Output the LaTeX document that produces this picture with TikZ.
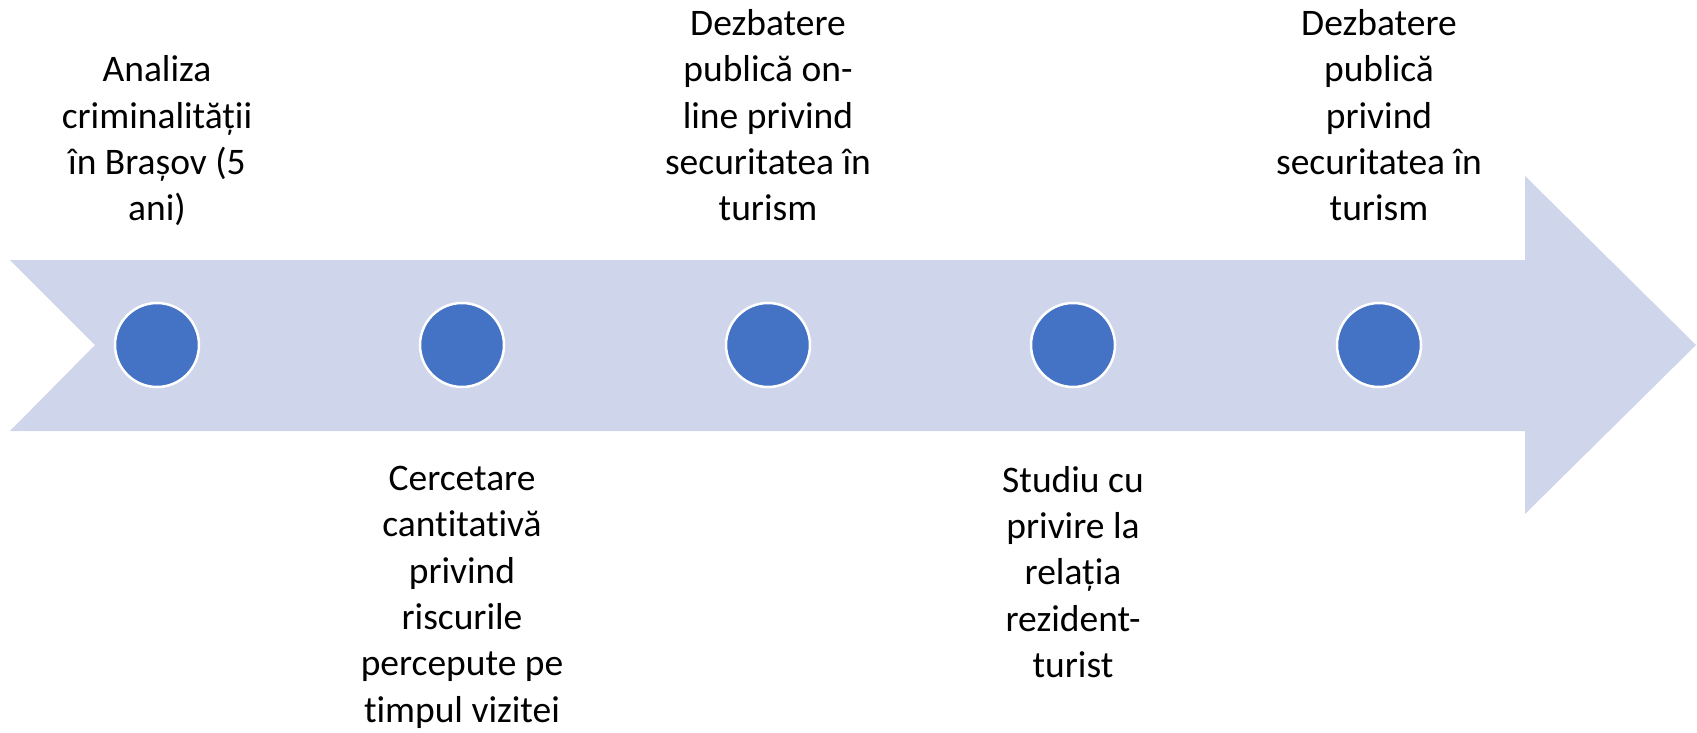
\documentclass[tikz,border=0pt]{standalone}
\usepackage{fontspec}
\setmainfont{Carlito}[Ligatures=NoCommon]
\usetikzlibrary{positioning}
\definecolor{bandblue}{HTML}{CFD5EA}
\definecolor{dotblue}{HTML}{4472C4}

\begin{document}
\begin{tikzpicture}[x=1pt, y=-1pt,
    milestone/.style={circle, fill=dotblue, draw=white, line width=2.5pt, minimum size=84pt, inner sep=0pt},
    note/.style={align=center, inner sep=0pt, font=\fontsize{37.5}{46.3}\selectfont}]
  \useasboundingbox (0,0) rectangle (1697,733);

  % The band with its notched tail
  \fill[bandblue] (10,260) -- (1525,260) -- (1525,176) -- (1696,345)
    -- (1525,514) -- (1525,431) -- (10,431) -- (95,345) -- cycle;

  % The milestones along the band
  \foreach \i/\x in {1/157,2/462,3/768,4/1073,5/1379}
    \node[milestone] (d\i) at (\x,345) {};

  % Texts above the band (base of the last line)
  \node[note, anchor=south, text depth=8pt] (t1) at (d1 |- 0,229) {Analiza\\criminalității\\în Brașov (5\\ani)};
  \node[note, anchor=south, text depth=8pt] (t3) at (d3 |- 0,229) {Dezbatere\\publică on-\\line privind\\securitatea în\\turism};
  \node[note, anchor=south, text depth=8pt] (t5) at (d5 |- 0,229) {Dezbatere\\publică\\privind\\securitatea în\\turism};

  % Texts below the band
  \node[note, anchor=north] (t2) at (d2 |- 0,466) {Cercetare\\cantitativă\\privind\\riscurile\\percepute pe\\timpul vizitei};
  \node[note, anchor=north] (t4) at (d4 |- 0,466) {Studiu cu\\privire la\\relația\\rezident-\\turist};
\end{tikzpicture}
\end{document}
